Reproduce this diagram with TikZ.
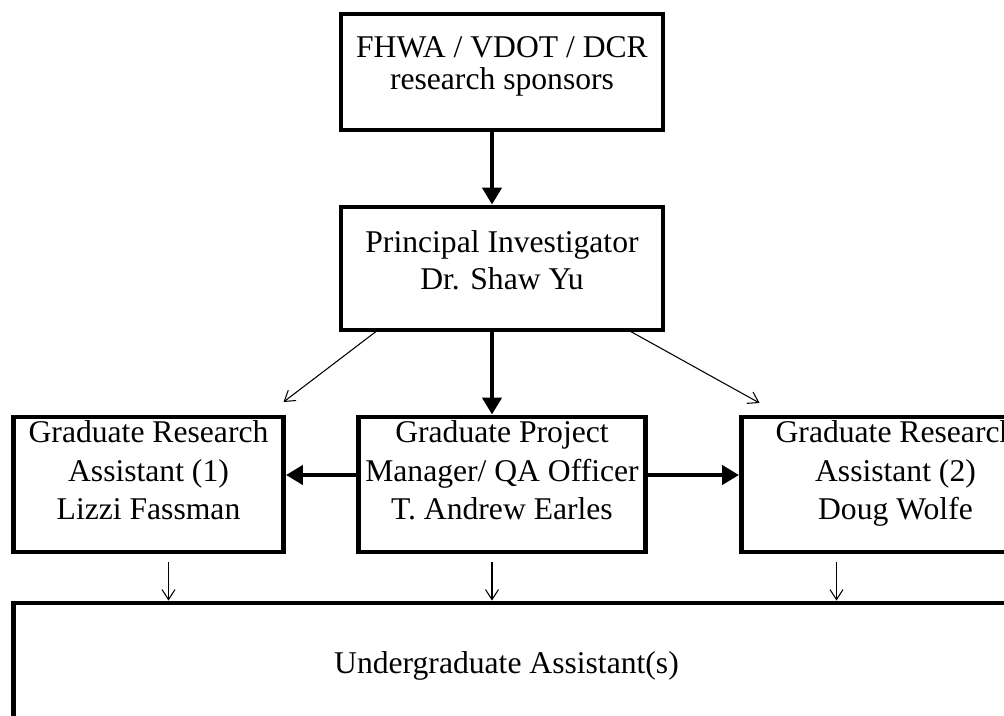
\documentclass[tikz,border=0pt]{standalone}
\usepackage{fontspec}
\setmainfont{Liberation Serif}
\usetikzlibrary{arrows.meta, positioning, calc}
\tikzset{
    orgtext/.style={font=\fontsize{18}{21.9}\selectfont},
    orgbox/.style={rectangle, draw=black, line width=2.8pt, outer sep=0pt,
                   inner sep=0pt, minimum height=2.7cm, align=center,
                   text depth=0.56cm, orgtext},
    bigarr/.style={line width=2.6pt, shorten >=1.4pt,
                   -{Triangle[length=0.34cm, width=0.38cm]}},
    thinarr/.style={line width=0.6pt,
                    -{Straight Barb[length=0.2cm, width=0.26cm]}},
}

\begin{document}
\begin{tikzpicture}[node distance=1.5cm]
    \useasboundingbox (0,0) rectangle (20.08,-14.32);
    \clip (0,0) rectangle (20.08,-14.32);

    % Sponsors and PI
    \node[orgbox, minimum width=6.44cm, minimum height=2.32cm, text depth=0.36cm,
          font=\fontsize{18}{18}\selectfont] (spons) at (10.04,-1.44)
          {FHWA / VDOT / DCR\\research sponsors};
    \node[orgbox, minimum width=6.44cm, minimum height=2.46cm, text depth=0.33cm,
          font=\fontsize{18}{21}\selectfont,
          below=1.54cm of spons] (pi) {Principal Investigator\\Dr. Shaw Yu};

    % Graduate level
    \node[orgbox, minimum width=5.74cm, below=1.74cm of pi] (gpm)
          {Graduate Project\\Manager/ QA Officer\\T. Andrew Earles};
    \node[orgbox, minimum width=5.4cm, left=1.5cm of gpm] (gra1)
          {Graduate Research\\Assistant (1)\\Lizzi Fassman};
    \node[orgbox, minimum width=6.16cm, right=1.92cm of gpm] (gra2)
          {Graduate Research\\Assistant (2)\\Doug Wolfe};

    % Undergraduates
    \node[orgbox, minimum width=20.4cm, minimum height=2.32cm,
          below=1.02cm of gra1.south west, anchor=north west] (under) {};
    \node[orgtext, xshift=0.09cm, yshift=-0.09cm] (undertxt) at (gpm |- under.center)
          {Undergraduate Assistant(s)};

    % Main line
    \draw[bigarr] ([xshift=-0.2cm]spons.south) -- ([xshift=-0.2cm]pi.north);
    \draw[bigarr] ([xshift=-0.2cm]pi.south) -- ([xshift=-0.2cm]pi.south |- gpm.north);
    \draw[bigarr] ([yshift=0.19cm]gpm.west) -- ([yshift=0.19cm]gra1.east);
    \draw[bigarr] ([yshift=0.19cm]gpm.east) -- ([yshift=0.19cm]gra2.west);

    % PI to research assistants
    \draw[thinarr] ([xshift=0.74cm]pi.south west) -- ([yshift=0.3cm]gra1.north east);
    \draw[thinarr] ([xshift=-0.7cm]pi.south east) -- ([xshift=0.36cm, yshift=0.28cm]gra2.north west);

    % Down to undergraduates
    \draw[thinarr, shorten <=0.2cm, shorten >=1.4pt] ([xshift=0.4cm]gra1.south) -- ([xshift=0.4cm]gra1.south |- under.north);
    \draw[thinarr, shorten <=0.2cm, shorten >=1.4pt] ([xshift=-0.2cm]gpm.south) -- ([xshift=-0.2cm]gpm.south |- under.north);
    \draw[thinarr, shorten <=0.2cm, shorten >=1.4pt] ([xshift=-1.18cm]gra2.south) -- ([xshift=-1.18cm]gra2.south |- under.north);
\end{tikzpicture}
\end{document}
